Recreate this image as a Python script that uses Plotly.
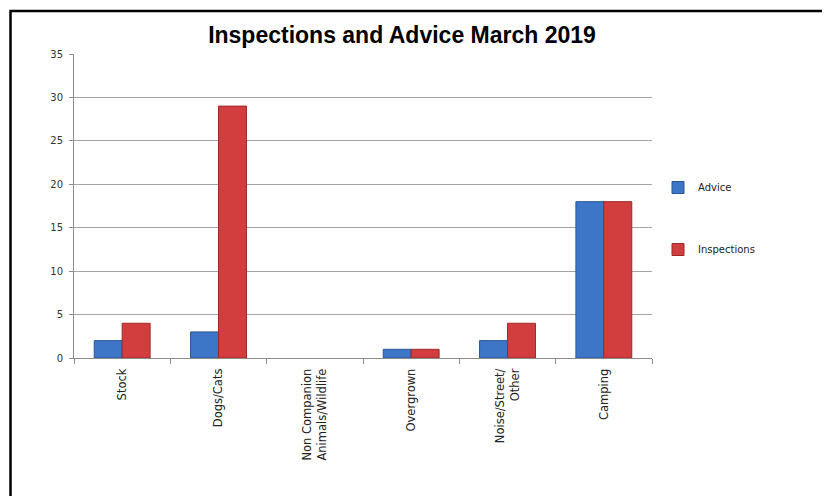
import plotly.graph_objects as go

categories = ["Stock", "Dogs/Cats", "Non Companion<br>Animals/Wildlife", "Overgrown", "Noise/Street/<br>Other", "Camping"]
advice = [2, 3, 0, 1, 2, 18]
inspections = [4, 29, 0, 1, 4, 18]
y_ticks = [0, 5, 10, 15, 20, 25, 30, 35]

W, H = 830, 496
# page body has an 8px margin, so figure coords = page coords - 8
L, T = 66, 46
pw, ph = 578, 304
R, B = W - L - pw, H - T - ph

def px_x(p):
    return (p - L) / pw

def px_y(p):
    return 1 - (p - T) / ph

def edge_widths(vals):
    return [0 if v == 0 else 1 for v in vals]

fig = go.Figure()
fig.add_trace(go.Bar(
    name="Advice", x=categories, y=advice,
    marker=dict(color="#3D76C7", line=dict(color="#2A5596", width=edge_widths(advice))),
    legendgroup="a",
))
fig.add_trace(go.Bar(
    name="Inspections", x=categories, y=inspections,
    marker=dict(color="#D23E3E", line=dict(color="#9C2828", width=edge_widths(inspections))),
    legendgroup="b",
))

fig.update_layout(
    width=W, height=H,
    margin=dict(l=L, r=R, t=T, b=B),
    paper_bgcolor="white", plot_bgcolor="white",
    barmode="group", bargap=0.42, bargroupgap=0,
    title=dict(text="<b>Inspections and Advice March 2019</b>",
               font=dict(family="Liberation Sans", size=23, color="#000"),
               x=394 / W, xanchor="center", xref="container",
               y=1 - 26.5 / H, yanchor="middle", yref="container"),
    font=dict(family="DejaVu Sans", size=10, color="#222"),
    legend=dict(x=px_x(650), xanchor="left", y=px_y(165), yanchor="top",
                tracegroupgap=43, font=dict(family="DejaVu Sans", size=10, color="#222"),
                bgcolor="rgba(0,0,0,0)"),
    showlegend=True,
)
fig.update_yaxes(range=[0, 35], tickvals=y_ticks, showgrid=True, gridcolor="#A3A3A3", gridwidth=1,
                 showline=True, linecolor="#8C8C8C", linewidth=1,
                 ticks="outside", ticklen=4, tickcolor="#8C8C8C",
                 tickfont=dict(family="DejaVu Sans", size=10, color="#333"),
                 ticklabelstandoff=4, zeroline=False)
fig.update_xaxes(showline=True, linecolor="#8C8C8C", linewidth=1,
                 ticks="outside", ticklen=5, tickcolor="#8C8C8C", tickson="boundaries",
                 tickangle=-90, tickfont=dict(family="DejaVu Sans", size=11.5, color="#222"),
                 ticklabelstandoff=5)

fig.add_shape(type="rect", xref="paper", yref="paper",
              x0=px_x(2.5), x1=px_x(845), y0=px_y(510), y1=px_y(3),
              line=dict(color="black", width=2.5), fillcolor="rgba(0,0,0,0)", layer="above")

fig.write_html("out.html")
